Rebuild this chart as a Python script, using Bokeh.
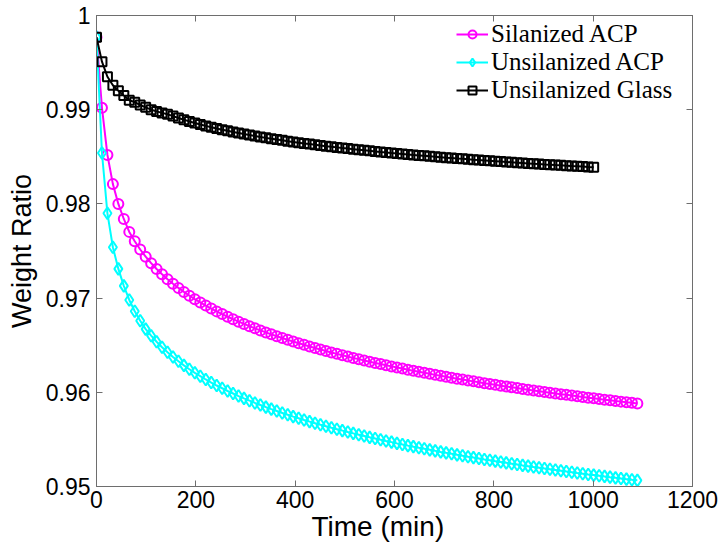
from bokeh.plotting import figure
from bokeh.models import Range1d, FixedTicker, LinearAxis, Legend, LegendItem, Title
from bokeh.embed import file_html
from bokeh.resources import INLINE

# ---- data ----
time_acp = [0, 11, 22, 33, 44, 55, 66, 77, 88, 99, 110, 121, 132, 143, 154, 165, 176, 187, 198, 209,
            220, 231, 242, 253, 264, 275, 286, 297, 308, 319, 330, 341, 352, 363, 374, 385, 396, 407, 418, 429,
            440, 451, 462, 473, 484, 495, 506, 517, 528, 539, 550, 561, 572, 583, 594, 605, 616, 627, 638, 649,
            660, 671, 682, 693, 704, 715, 726, 737, 748, 759, 770, 781, 792, 803, 814, 825, 836, 847, 858, 869,
            880, 891, 902, 913, 924, 935, 946, 957, 968, 979, 990, 1001, 1012, 1023, 1034, 1045, 1056, 1067, 1078, 1089]

time_glass = time_acp[:92]

silanized_acp = [0.9977, 0.9902, 0.9852, 0.9821, 0.9800, 0.9784, 0.97703, 0.97603, 0.97516, 0.97440,
                 0.97371, 0.97309, 0.97253, 0.97201, 0.97153, 0.97108, 0.97066, 0.97026, 0.96989, 0.96954,
                 0.96921, 0.96889, 0.96859, 0.96830, 0.96802, 0.96776, 0.96750, 0.96726, 0.96702, 0.96679,
                 0.96657, 0.96636, 0.96615, 0.96595, 0.96576, 0.96557, 0.96539, 0.96521, 0.96504, 0.96487,
                 0.96470, 0.96454, 0.96439, 0.96423, 0.96408, 0.96394, 0.96379, 0.96365, 0.96352, 0.96338,
                 0.96325, 0.96312, 0.96300, 0.96287, 0.96275, 0.96263, 0.96252, 0.96240, 0.96229, 0.96218,
                 0.96207, 0.96196, 0.96185, 0.96175, 0.96165, 0.96155, 0.96145, 0.96135, 0.96125, 0.96116,
                 0.96107, 0.96097, 0.96088, 0.96079, 0.96070, 0.96062, 0.96053, 0.96045, 0.96036, 0.96028,
                 0.96020, 0.96012, 0.96004, 0.95996, 0.95988, 0.95980, 0.95973, 0.95965, 0.95958, 0.95950,
                 0.95943, 0.95936, 0.95929, 0.95922, 0.95915, 0.95908, 0.95901, 0.95894, 0.95888, 0.95881]

unsilanized_acp = [0.9977, 0.9854, 0.9790, 0.9754, 0.9731, 0.9713, 0.9698, 0.9686, 0.9676, 0.96671,
                   0.96601, 0.96537, 0.96478, 0.96425, 0.96375, 0.96329, 0.96286, 0.96245, 0.96207, 0.96171,
                   0.96136, 0.96104, 0.96072, 0.96043, 0.96014, 0.95987, 0.95960, 0.95935, 0.95911, 0.95887,
                   0.95865, 0.95843, 0.95821, 0.95801, 0.95781, 0.95761, 0.95742, 0.95724, 0.95706, 0.95689,
                   0.95672, 0.95655, 0.95639, 0.95623, 0.95608, 0.95593, 0.95578, 0.95564, 0.95550, 0.95536,
                   0.95522, 0.95509, 0.95496, 0.95483, 0.95471, 0.95458, 0.95446, 0.95434, 0.95423, 0.95411,
                   0.95400, 0.95389, 0.95378, 0.95367, 0.95357, 0.95347, 0.95336, 0.95326, 0.95316, 0.95307,
                   0.95297, 0.95287, 0.95278, 0.95269, 0.95260, 0.95251, 0.95242, 0.95233, 0.95224, 0.95216,
                   0.95207, 0.95199, 0.95191, 0.95183, 0.95175, 0.95167, 0.95159, 0.95151, 0.95143, 0.95136,
                   0.95128, 0.95121, 0.95114, 0.95107, 0.95099, 0.95092, 0.95085, 0.95078, 0.95071, 0.95065]

unsilanized_glass = [0.9977, 0.9951, 0.9935, 0.9926, 0.9920, 0.9915, 0.9910, 0.9908, 0.9905, 0.99025,
                     0.9900, 0.98982, 0.98966, 0.98952, 0.98932, 0.98912, 0.98893, 0.98876, 0.98859, 0.98843,
                     0.98828, 0.98814, 0.98801, 0.98788, 0.98776, 0.98764, 0.98752, 0.98741, 0.98731, 0.98721,
                     0.98711, 0.98701, 0.98692, 0.98683, 0.98675, 0.98666, 0.98658, 0.98650, 0.98642, 0.98635,
                     0.98627, 0.98620, 0.98613, 0.98607, 0.98600, 0.98593, 0.98587, 0.98581, 0.98575, 0.98569,
                     0.98563, 0.98557, 0.98551, 0.98546, 0.98540, 0.98535, 0.98530, 0.98525, 0.98520, 0.98515,
                     0.98510, 0.98505, 0.98500, 0.98496, 0.98491, 0.98487, 0.98482, 0.98478, 0.98474, 0.98469,
                     0.98465, 0.98461, 0.98457, 0.98453, 0.98449, 0.98445, 0.98441, 0.98438, 0.98434, 0.98430,
                     0.98426, 0.98423, 0.98419, 0.98416, 0.98412, 0.98409, 0.98406, 0.98402, 0.98399, 0.98396,
                     0.98392, 0.98389]

x_ticks = [0, 200, 400, 600, 800, 1000, 1200]
y_ticks = [0.95, 0.96, 0.97, 0.98, 0.99, 1.0]
y_tick_labels = ["0.95", "0.96", "0.97", "0.98", "0.99", "1"]
series_names = ["Silanized ACP", "Unsilanized ACP", "Unsilanized Glass"]
series_colors = ["#ff00ff", "#00ffff", "#000000"]
x_title = "Time (min)"
y_title = "Weight Ratio"

# ---- figure ----
p = figure(width=725, height=545, output_backend="svg", toolbar_location=None,
           x_range=Range1d(0, 1200), y_range=Range1d(0.95, 1.0),
           min_border_left=96, min_border_right=33, min_border_top=15, min_border_bottom=59)
p.background_fill_color = "white"
p.border_fill_color = "white"
p.outline_line_color = "#6e6e6e"
p.outline_line_width = 1
p.grid.visible = False

TICK_FONT = "Liberation Sans"
AX_COLOR = "#6e6e6e"

def style_axis(ax, show_labels):
    ax.axis_line_color = AX_COLOR
    ax.major_tick_line_color = AX_COLOR
    ax.major_tick_in = 6
    ax.major_tick_out = 0
    ax.minor_tick_line_color = None
    ax.major_label_text_font = TICK_FONT
    ax.major_label_text_font_size = "23px"
    ax.major_label_text_color = "#000000" if show_labels else None
    ax.axis_label_text_font = TICK_FONT
    ax.axis_label_text_font_size = "27px"
    ax.axis_label_text_font_style = "normal"
    ax.axis_label_text_color = "#000000"

xa = p.xaxis[0]
xa.ticker = FixedTicker(ticks=x_ticks)
style_axis(xa, True)
xa.major_label_standoff = 4

ya = p.yaxis[0]
ya.ticker = FixedTicker(ticks=y_ticks)
ya.major_label_overrides = {t: l for t, l in zip(y_ticks, y_tick_labels)}
ya.axis_label = y_title
style_axis(ya, True)
ya.major_label_standoff = 6
ya.axis_label_standoff = 6

top = LinearAxis(ticker=FixedTicker(ticks=x_ticks))
style_axis(top, False)
top.major_label_text_font_size = "0px"
top.major_label_standoff = 0
p.add_layout(top, "above")

right = LinearAxis(ticker=FixedTicker(ticks=y_ticks))
style_axis(right, False)
right.major_label_text_font_size = "0px"
right.major_label_standoff = 0
p.add_layout(right, "right")

# x-axis title, placed as in the reference (slightly left of centre)
xtitle = Title(text=x_title, align="left", offset=215, standoff=-4,
               text_font=TICK_FONT, text_font_size="28px", text_font_style="normal",
               text_color="#000000", text_line_height=0.7)
p.add_layout(xtitle, "below")

# ---- series ----
items = []
data = [(time_acp, silanized_acp, "circle", 10),
        (time_acp, unsilanized_acp, "diamond", 12),
        (time_glass, unsilanized_glass, "square", 9)]
for (t, v, mk, sz), name, col in zip(data, series_names, series_colors):
    ln = p.line(t, v, line_color=col, line_width=2)
    sc = p.scatter(t, v, marker=mk, size=sz, line_color=col, line_width=2, fill_alpha=0)
    items.append(LegendItem(label=name, renderers=[ln, sc]))

# one legend row per series, stacked with the reference's tighter row spacing
legend_rows_y = [438, 410, 382]   # screen px from frame bottom
for item, ly in zip(items, legend_rows_y):
    lg = Legend(items=[item], location=(360, ly))
    lg.label_text_font = "Liberation Serif"
    lg.label_text_font_size = "25px"
    lg.label_text_color = "#000000"
    lg.border_line_alpha = 0
    lg.background_fill_alpha = 0
    lg.glyph_width = 32
    lg.glyph_height = 20
    lg.label_standoff = 3
    lg.label_height = 20
    lg.spacing = 0
    lg.margin = 0
    lg.padding = 0
    p.add_layout(lg)

open("out.html", "w").write(file_html(p, INLINE))
